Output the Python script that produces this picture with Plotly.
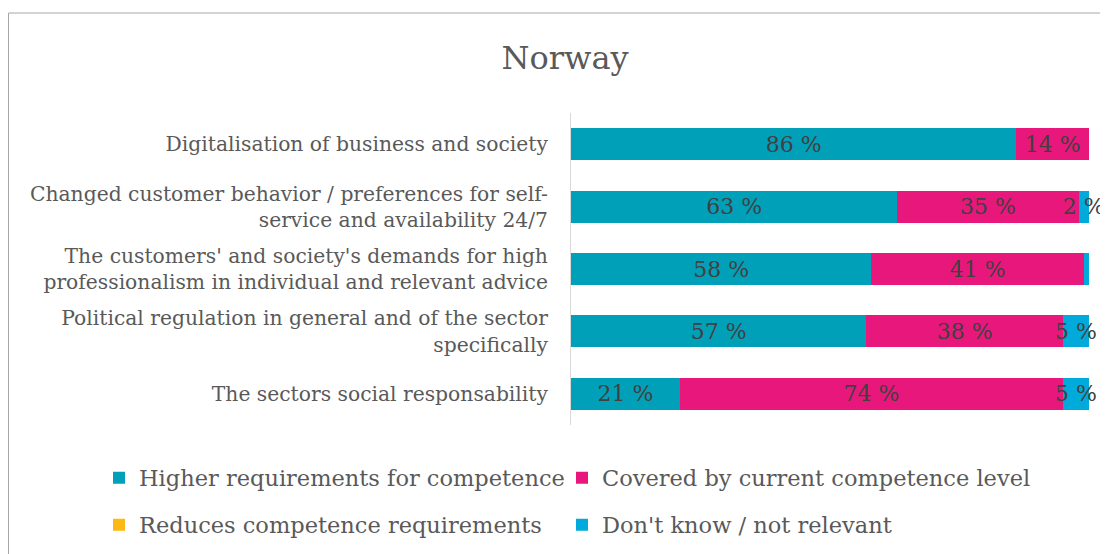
import plotly.graph_objects as go

categories = [
    "Digitalisation of business and society",
    "Changed customer behavior / preferences for self-<br>service and availability 24/7",
    "The customers' and society's demands for high<br>professionalism in individual and relevant advice",
    "Political regulation in general and of the sector<br>specifically",
    "The sectors social responsability",
]
series_names = [
    "Higher requirements for competence",
    "Covered by current competence level",
    "Reduces competence requirements",
    "Don't know / not relevant",
]
higher = [86, 63, 58, 57, 21]
covered = [14, 35, 41, 38, 74]
reduces = [0, 0, 0, 0, 0]
dont_know = [0, 2, 1, 5, 5]
label_min = 2  # smallest value that carries a data label

colors = ["#00A0B8", "#E8177C", "#FDB813", "#00ABDB"]
FONT = "DejaVu Serif"

W, H = 1108, 554
OFF = 8  # page body margin
L, R, T, B = 571 - OFF, W - (1089 - OFF), 113 - OFF, H - (425 - OFF)
pw, ph = W - L - R, H - T - B

def px_x(p):
    return (p - OFF - L) / pw

def px_y(p):
    return (H - B - (p - OFF)) / ph

fig = go.Figure()
all_vals = [higher, covered, reduces, dont_know]
legend_ids = ["legend", "legend2", "legend3", "legend4"]
legend_pos = [(99, 478), (562, 478), (99, 525), (562, 525)]
for name, vals, col, lg in zip(series_names, all_vals, colors, legend_ids):
    fig.add_trace(go.Bar(
        y=categories, x=vals, name=name, orientation="h",
        marker=dict(color=col, line=dict(width=0)),
        text=[f"{v} %" if v >= label_min else "" for v in vals],
        textposition="inside", insidetextanchor="middle", textangle=0,
        constraintext="none", cliponaxis=False,
        textfont=dict(family=FONT, size=22, color="#404040"),
        legend=lg,
    ))

legends = {}
for lg, (lx, ly) in zip(legend_ids, legend_pos):
    legends[lg] = dict(orientation="h", xanchor="left", yanchor="middle",
                       x=px_x(lx), y=px_y(ly), itemwidth=30,
                       font=dict(family=FONT, size=22.5, color="#595959"),
                       bgcolor="rgba(0,0,0,0)")

fig.update_layout(
    width=W, height=H,
    margin=dict(l=L, r=R, t=T, b=B),
    barmode="stack", bargap=0.49,
    paper_bgcolor="white", plot_bgcolor="white",
    font=dict(family=FONT, color="#595959"),
    title=dict(text="Norway", font=dict(family=FONT, size=32, color="#595959"),
               x=(565 - OFF) / W, xref="container", xanchor="center",
               y=1 - (58 - OFF) / H, yref="container", yanchor="middle"),
    xaxis=dict(range=[0, 100], visible=False, fixedrange=True),
    yaxis=dict(autorange="reversed", showline=True, linecolor="#D9D9D9", linewidth=1,
               ticks="", ticklabelstandoff=18, showgrid=False,
               tickfont=dict(family=FONT, size=20.3, color="#595959")),
    shapes=[dict(type="rect", xref="paper", yref="paper",
                 x0=px_x(OFF + 0.5), x1=px_x(1140), y0=px_y(600), y1=px_y(13),
                 line=dict(color="#A6A6A6", width=1), fillcolor="rgba(0,0,0,0)", layer="below")],
    showlegend=True,
    **legends,
)

fig.write_html("out.html")
